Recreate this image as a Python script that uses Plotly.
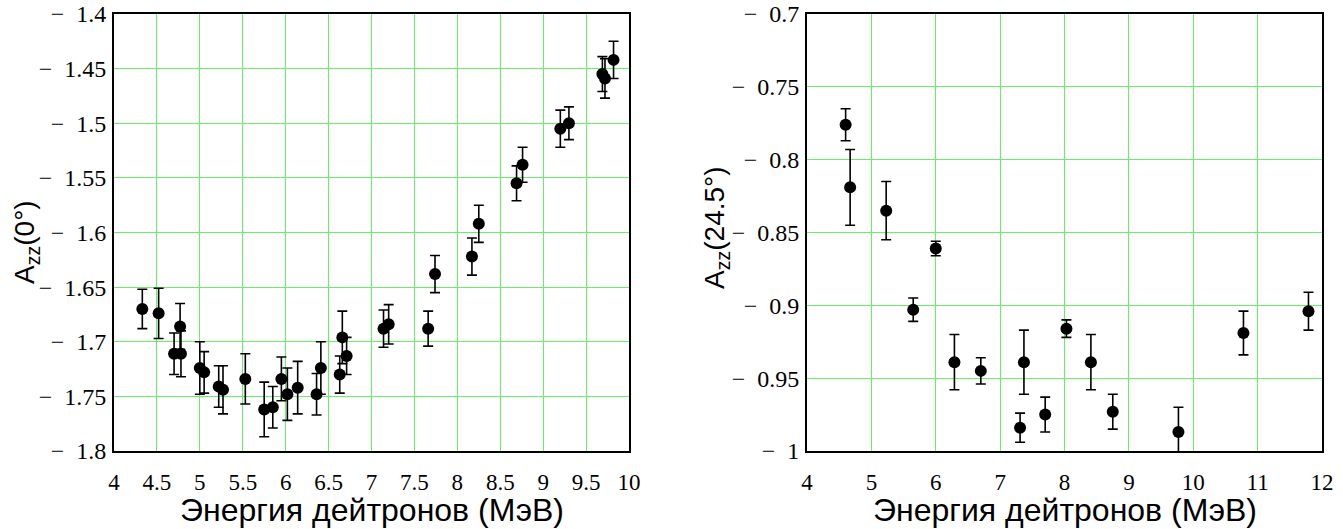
import plotly.graph_objects as go

# Left panel: A_zz(0°)
e_left = [4.33, 4.52, 4.70, 4.77, 4.78, 5.00, 5.05, 5.22, 5.27, 5.53, 5.75, 5.85,
          5.95, 6.02, 6.14, 6.36, 6.41, 6.63, 6.66, 6.71, 7.14, 7.20, 7.66, 7.74,
          8.17, 8.25, 8.69, 8.76, 9.20, 9.30, 9.69, 9.72, 9.82]
a_left = [-1.670, -1.674, -1.711, -1.686, -1.711, -1.724, -1.728, -1.741, -1.744, -1.734,
          -1.762, -1.760, -1.734, -1.748, -1.742, -1.748, -1.724, -1.730, -1.696, -1.713,
          -1.688, -1.684, -1.688, -1.638, -1.622, -1.592, -1.555, -1.538, -1.505, -1.500,
          -1.455, -1.459, -1.442]
err_left = [0.018, 0.023, 0.019, 0.021, 0.021, 0.024, 0.019, 0.019, 0.022, 0.023,
            0.025, 0.019, 0.020, 0.024, 0.024, 0.019, 0.024, 0.017, 0.024, 0.017,
            0.017, 0.018, 0.016, 0.017, 0.017, 0.017, 0.016, 0.016, 0.017, 0.015,
            0.016, 0.018, 0.017]

# Right panel: A_zz(24.5°)
e_right = [4.60, 4.67, 5.23, 5.65, 6.00, 6.29, 6.70, 7.31, 7.37, 7.70, 8.03, 8.41,
           8.75, 9.77, 10.78, 11.79]
a_right = [-0.776, -0.819, -0.835, -0.903, -0.861, -0.939, -0.945, -0.984, -0.939,
           -0.975, -0.916, -0.939, -0.973, -0.987, -0.919, -0.904]
err_right = [0.011, 0.026, 0.020, 0.008, 0.005, 0.019, 0.009, 0.010, 0.022, 0.012,
             0.006, 0.019, 0.012, 0.017, 0.015, 0.013]

# Tick labels
xt_left = [4, 4.5, 5, 5.5, 6, 6.5, 7, 7.5, 8, 8.5, 9, 9.5, 10]
yt_left = [-1.8, -1.75, -1.7, -1.65, -1.6, -1.55, -1.5, -1.45, -1.4]
xt_right = [4, 5, 6, 7, 8, 9, 10, 11, 12]
yt_right = [-1.0, -0.95, -0.9, -0.85, -0.8, -0.75, -0.7]

x_title = "Энергия дейтронов (МэВ)"
y_title_left = "A<sub>zz</sub>(0°)"
y_title_right = "A<sub>zz</sub>(24.5°)"


def fmt_x(v):
    return ("%g" % v)


def fmt_y(v):
    return "\u2212\u2002" + ("%g" % abs(v))


W, H = 1343, 529
L_dom = [114 / W, 629 / W]
R_dom = [807 / W, 1322 / W]
Y_dom = [1 - 451 / H, 1 - 14 / H]

marker = dict(color="black", size=12)


def errbar(err):
    return dict(type="data", array=err, visible=True, color="black", thickness=1.6, width=5)


fig = go.Figure()
fig.add_trace(go.Scatter(x=e_left, y=a_left, mode="markers", marker=marker,
                         error_y=errbar(err_left), xaxis="x", yaxis="y", showlegend=False))
fig.add_trace(go.Scatter(x=e_right, y=a_right, mode="markers", marker=marker,
                         error_y=errbar(err_right), xaxis="x2", yaxis="y2", showlegend=False))

serif = "Liberation Serif"
grid = "#66f066"


def axis(domain, rng, anchor, vals, texts, ticklen, size):
    return dict(domain=domain, range=rng, anchor=anchor,
                tickmode="array", tickvals=vals, ticktext=texts,
                showline=True, linecolor="black", linewidth=2, mirror=True,
                showgrid=True, gridcolor=grid, gridwidth=1, zeroline=False,
                ticks="outside", ticklen=ticklen, tickcolor="rgba(0,0,0,0)",
                tickfont=dict(family=serif, size=size, color="black"))


fig.update_layout(
    width=W, height=H,
    margin=dict(l=0, r=0, t=0, b=0),
    paper_bgcolor="white", plot_bgcolor="white",
    font=dict(family=serif, size=23, color="black"),
    template="none",
    xaxis=axis(L_dom, [4, 10], "y", xt_left, [fmt_x(v) for v in xt_left], 9, 23),
    yaxis=axis(Y_dom, [-1.8, -1.4], "x", yt_left, [fmt_y(v) for v in yt_left], 1, 24),
    xaxis2=axis(R_dom, [4, 12], "y2", xt_right, [fmt_x(v) for v in xt_right], 9, 23),
    yaxis2=axis(Y_dom, [-1.0, -0.7], "x2", yt_right, [fmt_y(v) for v in yt_right], 1, 24),
)

sans = "Liberation Sans"
title_font = dict(family=sans, size=32, color="black")
ytitle_font = dict(family=sans, size=28, color="black")

fig.add_annotation(x=(114 + 629) / 2 / W, y=1 - 510 / H, xref="paper", yref="paper",
                   text=x_title, showarrow=False, font=title_font, xanchor="center", yanchor="middle")
fig.add_annotation(x=(807 + 1322) / 2 / W, y=1 - 510 / H, xref="paper", yref="paper",
                   text=x_title, showarrow=False, font=title_font, xanchor="center", yanchor="middle")
fig.add_annotation(x=27 / W, y=1 - 242 / H, xref="paper", yref="paper",
                   text=y_title_left, showarrow=False, font=ytitle_font, textangle=-90,
                   xanchor="center", yanchor="middle")
fig.add_annotation(x=716 / W, y=1 - 228 / H, xref="paper", yref="paper",
                   text=y_title_right, showarrow=False, font=ytitle_font, textangle=-90,
                   xanchor="center", yanchor="middle")

fig.write_html("out.html")
